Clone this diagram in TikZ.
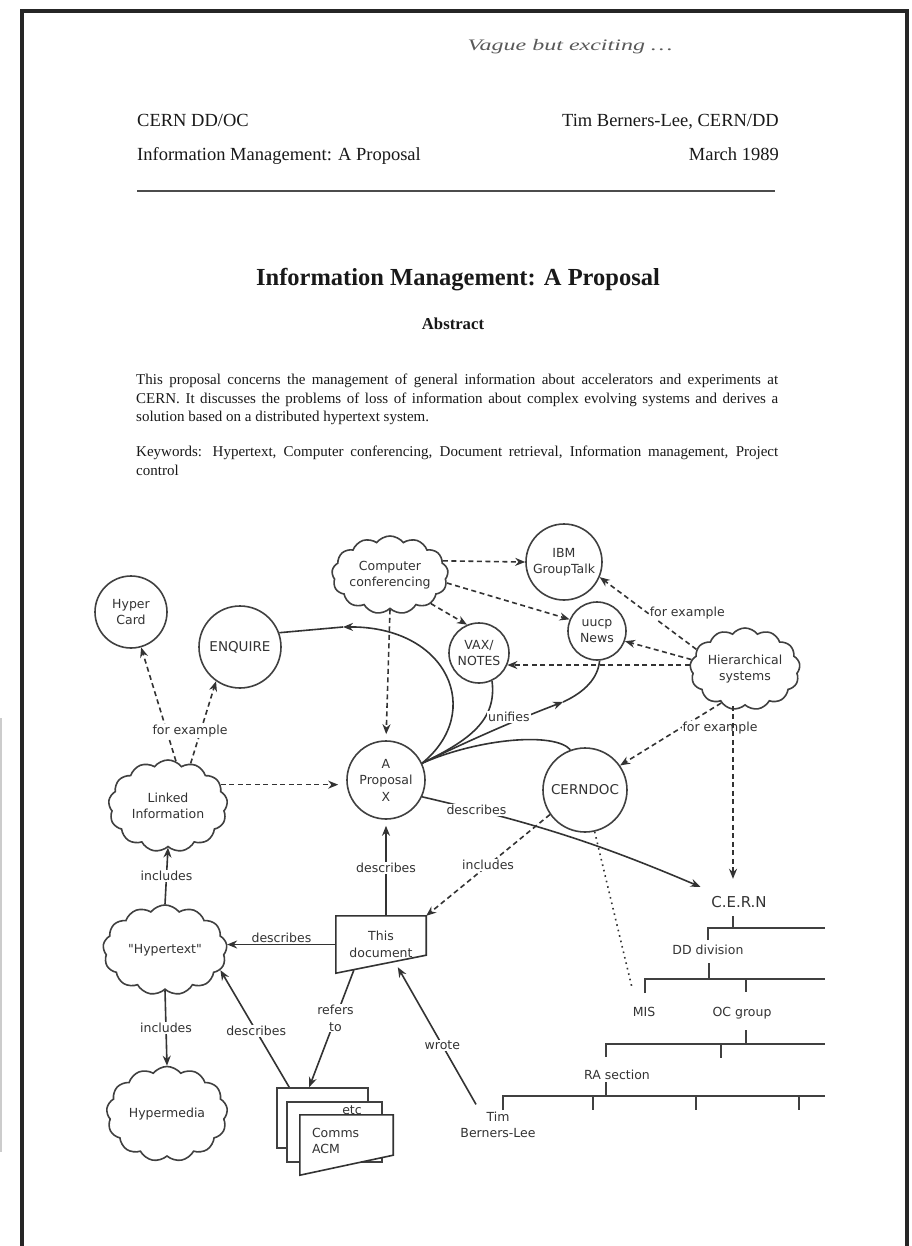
\documentclass[tikz,border=0pt]{standalone}
\usepackage{fontspec}
\usetikzlibrary{shapes.symbols, arrows.meta, positioning}
\newfontfamily\paperfont{Liberation Serif}
\newfontfamily\chartfont{DejaVu Sans}

\tikzset{
  headtext/.style={inner sep=0pt, text=black!90, font=\paperfont\fontsize{18.5}{22}\selectfont},
  topic/.style={circle, draw=black!75, line width=1.6pt, inner sep=0pt, align=center, text=black!80, font=\chartfont\fontsize{12.5}{16.5}\selectfont},
  bigtopic/.style={topic, font=\chartfont\fontsize{13.5}{16.5}\selectfont},
  idea/.style={cloud, cloud puffs=13, cloud puff arc=105, cloud ignores aspect, draw=black!75, line width=1.6pt, inner sep=0pt, align=center, text=black!80, font=\chartfont\fontsize{12.5}{16.5}\selectfont},
  chart/.style={align=center, text=black!80, font=\chartfont\fontsize{12.5}{16.5}\selectfont},
  edge/.style={draw=black!80, line width=1.6pt},
  link/.style={edge, -{Stealth[length=10pt, width=8pt]}},
  dlink/.style={link, dash pattern=on 5pt off 3.5pt},
  lbl/.style={chart, fill=white, inner sep=1pt},
  tree/.style={draw=black!75, line width=1.6pt},
  page/.style={draw=black!75, line width=1.6pt, fill=white, inner sep=0pt}
}

\begin{document}
\begin{tikzpicture}[x=1pt, y=1pt]
\fill[white] (0,0) rectangle (911,-1246);
\useasboundingbox (0,0) rectangle (911,-1246);
\draw[black!85, line width=4pt] (22,-1246) -- (22,-11) -- (907,-11) -- (907,-1246);
\draw[black!20, line width=2pt] (1,-718) -- (1,-1152);

\node[text=black!65, font=\paperfont\itshape\fontsize{16}{18}\selectfont] (remark) at (570,-47) {\scalebox{1.5}[1]{Vague but exciting \dots}};
\node[headtext, anchor=base west] (lab) at (137,-127) {CERN DD/OC};
\node[headtext, anchor=base east] (author) at (779,-127) {Tim Berners-Lee, CERN/DD};
\node[headtext, anchor=base west] (runtitle) at (137,-161) {Information Management: A Proposal};
\node[headtext, anchor=base east] (date) at (779,-161) {March 1989};
\draw[black!70, line width=1.5pt] (137,-191) -- (775,-191);
\node[headtext, anchor=base, font=\paperfont\bfseries\fontsize{24.5}{28}\selectfont] (title) at (458,-286) {Information Management: A Proposal};
\node[headtext, anchor=base, font=\paperfont\bfseries\fontsize{16.7}{20}\selectfont] (abshead) at (453,-329) {Abstract};
\node[headtext, anchor=north west, text width=642pt, align=justify, font=\paperfont\fontsize{15}{18.5}\selectfont] (abstract) at (136,-374) {This proposal concerns the management of general information about accelerators and experiments at\linebreak CERN. It discusses the problems of loss of information about complex evolving systems and derives a\linebreak solution based on a distributed hypertext system.};
\node[headtext, anchor=north west, text width=642pt, align=justify, font=\paperfont\fontsize{15}{18.5}\selectfont] (keywords) at (136,-446) {Keywords: Hypertext, Computer conferencing, Document retrieval, Information management, Project\linebreak control};

\node[idea, minimum width=108pt, minimum height=78pt] (confer) at (390,-575) {Computer\\conferencing};
\node[topic, minimum size=76pt] (ibm) at (564,-562) {IBM\\GroupTalk};
\node[topic, minimum size=60pt] (vax) at (479,-653) {VAX/\\NOTES};
\node[topic, minimum size=58pt] (uucp) at (597,-631) {uucp\\News};
\node[idea, minimum width=110pt, minimum height=82pt] (hier) at (745,-669) {Hierarchical\\systems};
\node[topic, minimum size=72pt] (hypercard) at (131,-612) {Hyper\\Card};
\node[bigtopic, minimum size=82pt] (enquire) at (240,-647) {ENQUIRE};
\node[idea, minimum width=119pt, minimum height=92pt] (linked) at (168,-806) {Linked\\Information};
\node[topic, minimum size=78pt] (proposal) at (386,-780) {A\\Proposal\\X};
\node[bigtopic, minimum size=84pt] (cerndoc) at (585,-790) {CERNDOC};
\node[chart, font=\chartfont\fontsize{15}{18}\selectfont] (cern) at (739,-902) {C.E.R.N};
\node[chart, minimum width=90pt, minimum height=57pt, inner sep=0pt] (thisdoc) at (381,-944.5) {This\\document};
\draw[edge] (thisdoc.north west) -- (thisdoc.north east) -- ([yshift=18pt]thisdoc.south east) -- (thisdoc.south west) -- cycle;
\node[idea, minimum width=124pt, minimum height=90pt] (hypertext) at (165,-950) {"Hypertext"};
\node[idea, minimum width=121pt, minimum height=95pt] (hypermedia) at (167,-1114) {Hypermedia};

\node[page, minimum width=91pt, minimum height=60pt] (docback) at (322.5,-1118) {};
\node[page, minimum width=95pt, minimum height=60pt] (docmid) at (334.5,-1132) {};
\node[chart] (etc) at (352,-1110) {etc};
\node[minimum width=93pt, minimum height=60pt, inner sep=0pt] (docfront) at (346.5,-1145) {};
\filldraw[edge, fill=white] (docfront.north west) -- (docfront.north east) -- ([yshift=20pt]docfront.south east) -- (docfront.south west) -- cycle;
\node[chart, text width=72pt, align=left] (comms) at (348,-1141) {Comms\\ACM};
\node[chart] (tbl) at (498,-1125) {Tim\\Berners-Lee};

\node[chart] (ddiv) at (708,-950) {DD division};
\node[chart] (mis) at (644,-1012) {MIS};
\node[chart] (ocgroup) at (742,-1013) {OC group};
\node[chart] (rasection) at (617,-1075) {RA section};

\draw[dlink] (confer.15) -- (ibm.180);
\draw[dlink] (confer.-8) -- (uucp.157);
\draw[dlink] (confer.-35) -- (vax.113);
\draw[dlink, shorten >=6pt] (confer.south) -- (proposal.north);
\draw[dlink] (hier.158) -- (ibm.-23) node[lbl, pos=0.5, right] {for example};
\draw[dlink] (hier.170) -- (uucp.-20);
\draw[dlink] (hier.west |- vax.-23) -- (vax.-23);
\draw[dlink] (hier.-125) -- (cerndoc.35) node[lbl, pos=0.4, right] {for example};
\draw[dlink, shorten >=14pt] ([xshift=-6pt]hier.south -| cern.north) -- ([xshift=-6pt]cern.north);

\draw[dlink] (linked.80) -- (hypercard.-74);
\draw[dlink] (linked.62) -- (enquire.-125);
\node[lbl] (forex) at (190,-731) {for example};
\draw[dlink, shorten >=8pt] (linked.22) -- (linked.22 -| proposal.west);

\coordinate (enqmid) at (343,-627);
\draw[link] (proposal.25) .. controls (485,-712) and (448,-626) .. (enqmid);
\draw[edge] (enqmid) -- (enquire.20);
\draw[edge] (proposal.25) .. controls (470,-740) and (497,-720) .. (vax.-65);
\coordinate (uumid) at (563,-702);
\draw[link] (proposal.25) .. controls (460,-745) and (510,-722) .. (uumid) node[lbl, pos=0.65, above] {unifies};
\draw[edge] (uumid) .. controls (585,-692) and (598,-678) .. (uucp.-85);
\draw[edge] (proposal.25) .. controls (480,-738) and (555,-732) .. (cerndoc.110);
\draw[link, shorten >=8pt] (proposal.-25) to[bend left=5] node[lbl, pos=0.17] {describes} ([yshift=12pt]cern.west);

\draw[dlink] (cerndoc.-145) -- (thisdoc.north east) node[lbl, pos=0.5] {includes};
\draw[edge, line width=1.6pt, dash pattern=on 1.6pt off 4pt] (cerndoc.-77) -- ([xshift=3pt, yshift=15pt]mis.north west);

\draw[link, shorten >=6pt] (proposal.south |- thisdoc.north) -- (proposal.south) node[lbl, pos=0.5] {describes};
\draw[link] (thisdoc.west) -- (thisdoc.west -| hypertext.east) node[lbl, fill=none, pos=0.5, above] {describes};
\draw[link] ([xshift=13pt]docback.north west) -- (hypertext.-20) node[lbl, pos=0.48] {describes};
\draw[link] ([xshift=18pt, yshift=3pt]thisdoc.south west) -- ([xshift=33pt]docback.north west) node[lbl, pos=0.41] {refers\\to};
\draw[link] ([xshift=-22pt, yshift=4pt]tbl.north) -- ([xshift=62pt, yshift=6pt]thisdoc.south west) node[lbl, pos=0.43] {wrote};
\draw[link] (hypertext.north) -- (linked.south) node[lbl, pos=0.5] {includes};
\draw[link] (hypertext.south) -- (hypermedia.north) node[lbl, pos=0.5] {includes};

\draw[tree] (733,-916) -- (733,-928) (708,-940) -- (708,-928) -- (825,-928);
\draw[tree] (709,-963) -- (709,-979) (645,-993) -- (645,-979) -- (825,-979) (746,-979) -- (746,-992);
\draw[tree] (746,-1030) -- (746,-1044) (606,-1057) -- (606,-1044) -- (825,-1044) (721,-1044) -- (721,-1058);
\draw[tree] (606,-1082) -- (606,-1096) (503,-1110) -- (503,-1096) -- (825,-1096) (593,-1096) -- (593,-1110) (696,-1096) -- (696,-1110) (799,-1096) -- (799,-1110);
\end{tikzpicture}
\end{document}
